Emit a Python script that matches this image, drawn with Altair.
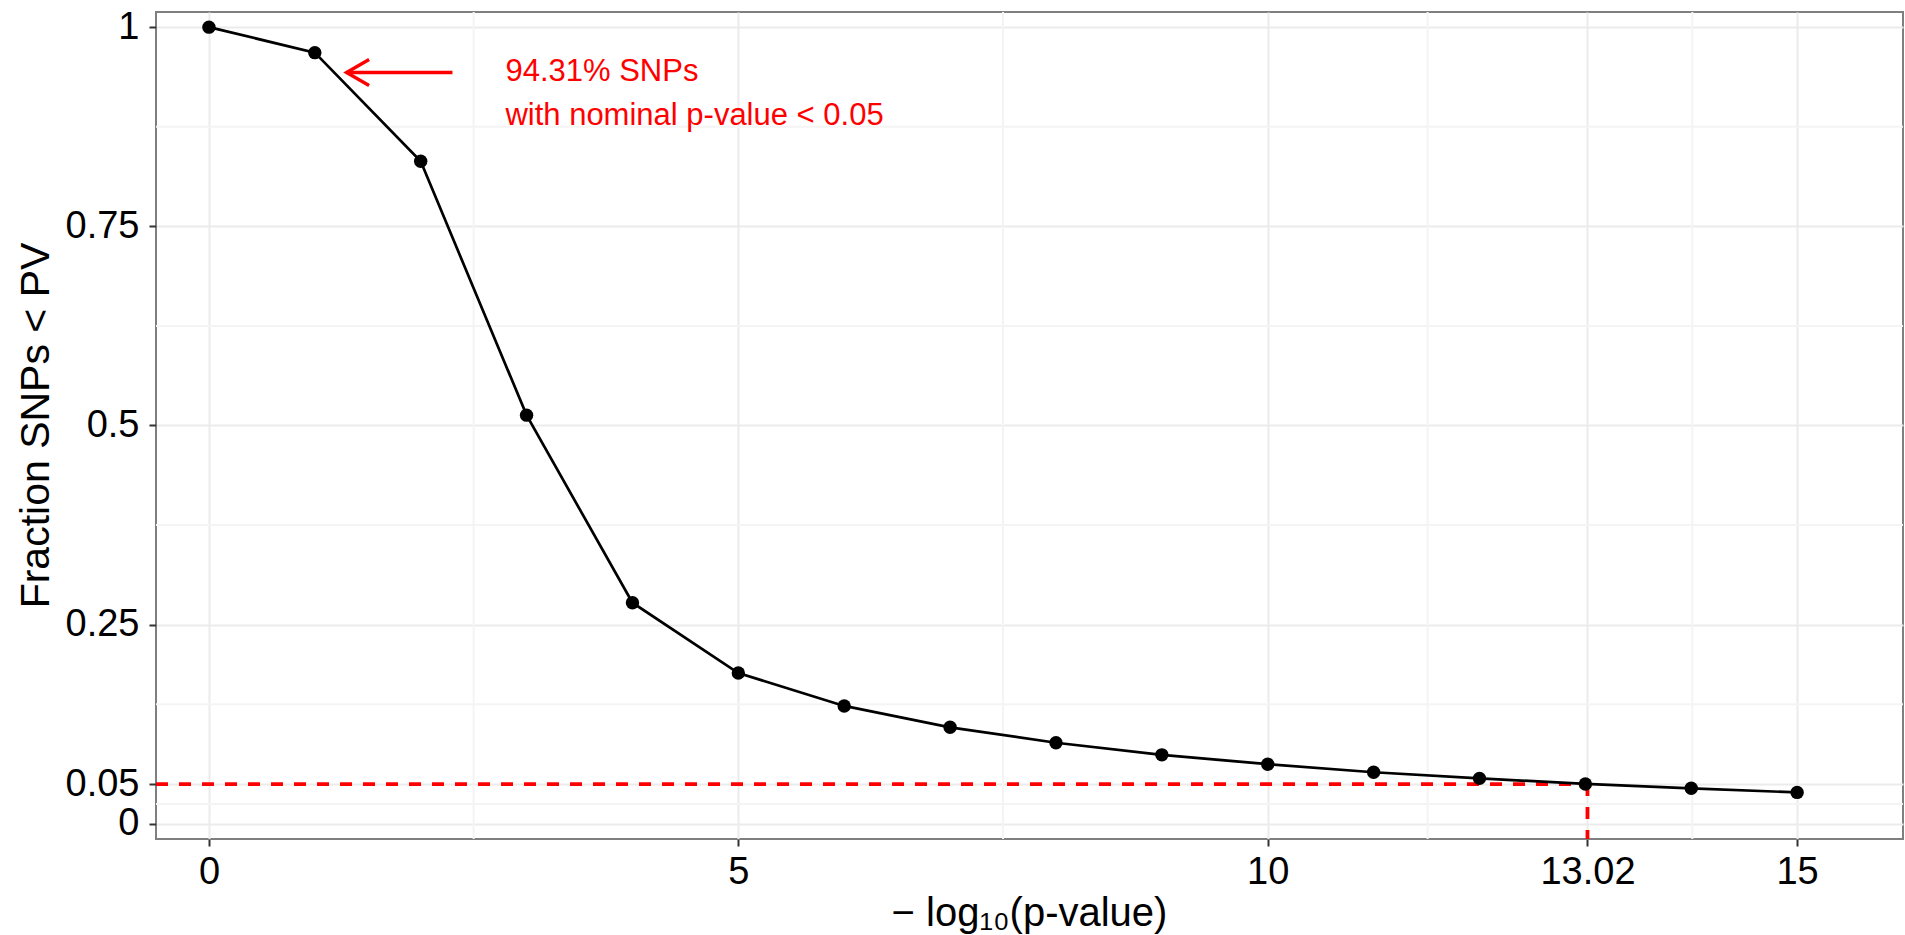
import altair as alt
import pandas as pd

# Cumulative fraction of SNPs whose p-value is below each -log10 threshold
neg_log10_p = list(range(16))
fraction_snps = [1.0, 0.968, 0.8316, 0.513, 0.2776, 0.1893, 0.148, 0.1212,
                 0.1018, 0.0866, 0.0749, 0.0648, 0.0571, 0.0501, 0.0446, 0.0395]

# Axis breaks (major) and the midpoints between them (minor grid)
x_breaks = [0, 5, 10, 13.02, 15]
x_minor = [2.5, 7.5, 11.51, 14.01]
y_breaks = [0, 0.05, 0.25, 0.5, 0.75, 1]
y_minor = [0.025, 0.15, 0.375, 0.625, 0.875]

x_limits = [-0.5, 16]
y_limits = [-0.019, 1.019]

# Reference threshold and where the curve crosses it
nominal_cut = 0.05
crossing_x = 13.02

# Annotation for the nominal p < 0.05 share
nominal_share = 0.9431
arrow_start, arrow_end = 2.3, 1.3
note_x = 2.8
note_text = "94.31% SNPs\nwith nominal p-value < 0.05"

FONT = "Liberation Sans"
RED = "#ff0000"

curve_df = pd.DataFrame({"x": neg_log10_p, "y": fraction_snps})

x_scale = alt.Scale(domain=x_limits, nice=False, zero=False)
y_scale = alt.Scale(domain=y_limits, nice=False, zero=False)

x_axis = alt.Axis(
    values=x_breaks, labelExpr="'' + datum.value",
    grid=True, gridColor="#ebebeb", gridWidth=2,
    domain=False, ticks=True, tickSize=7, tickWidth=2, tickColor="#333333",
    labelFont=FONT, labelFontSize=38, labelColor="#000000", labelPadding=7,
    labelFlush=False, labelOverlap=False,
    title="\u2212 log\u2081\u2080(p-value)", titleFont=FONT, titleFontSize=40,
    titleFontWeight="normal", titleColor="#000000",
    titleX=873, titleY=86, titleAlign="center", titleBaseline="alphabetic",
)
y_axis = alt.Axis(
    values=y_breaks, labelExpr="'' + datum.value",
    grid=True, gridColor="#ebebeb", gridWidth=2,
    domain=False, ticks=True, tickSize=7, tickWidth=2, tickColor="#333333",
    labelFont=FONT, labelFontSize=38, labelColor="#000000", labelPadding=10,
    labelFlush=False, labelOverlap=False,
    title="Fraction SNPs < PV", titleFont=FONT, titleFontSize=41,
    titleFontWeight="normal", titleColor="#000000",
    titleX=-120, titleY=413, titleAngle=270, titleAlign="center",
    titleBaseline="middle",
)

base = alt.Chart(curve_df)

curve = base.mark_line(color="#000000", strokeWidth=2.7).encode(
    x=alt.X("x:Q", scale=x_scale, axis=x_axis),
    y=alt.Y("y:Q", scale=y_scale, axis=y_axis),
)
dots = base.mark_circle(color="#000000", size=180, opacity=1).encode(
    x=alt.X("x:Q", scale=x_scale),
    y=alt.Y("y:Q", scale=y_scale),
)

minor_x = alt.Chart(pd.DataFrame({"x": x_minor})).mark_rule(
    color="#f4f4f4", strokeWidth=2
).encode(x=alt.X("x:Q", scale=x_scale))
minor_y = alt.Chart(pd.DataFrame({"y": y_minor})).mark_rule(
    color="#f4f4f4", strokeWidth=2
).encode(y=alt.Y("y:Q", scale=y_scale))

threshold_h = alt.Chart(pd.DataFrame({
    "x": [x_limits[0]], "x2": [crossing_x], "y": [nominal_cut]
})).mark_rule(color=RED, strokeWidth=3.8, strokeDash=[12, 11]).encode(
    x=alt.X("x:Q", scale=x_scale), x2="x2:Q", y=alt.Y("y:Q", scale=y_scale)
)
threshold_v = alt.Chart(pd.DataFrame({
    "x": [crossing_x], "y": [nominal_cut], "y2": [y_limits[0]]
})).mark_rule(color=RED, strokeWidth=3.8, strokeDash=[12, 11]).encode(
    x=alt.X("x:Q", scale=x_scale), y=alt.Y("y:Q", scale=y_scale), y2="y2:Q"
)

arrow_df = pd.DataFrame({"x": [arrow_start], "x2": [arrow_end], "y": [nominal_share]})
arrow_shaft = alt.Chart(arrow_df).mark_rule(color=RED, strokeWidth=3.4).encode(
    x=alt.X("x:Q", scale=x_scale), x2="x2:Q", y=alt.Y("y:Q", scale=y_scale)
)
arrow_head = alt.Chart(arrow_df).mark_point(
    shape="M 1 -0.58 L 0 0 L 1 0.58", size=2025, filled=False,
    color=RED, strokeWidth=3.4, opacity=1
).encode(x=alt.X("x2:Q", scale=x_scale), y=alt.Y("y:Q", scale=y_scale))

note = alt.Chart(pd.DataFrame({"x": [note_x], "y": [nominal_share], "t": [note_text]})).mark_text(
    font=FONT, fontSize=31, color=RED, align="left", baseline="middle",
    lineBreak="\n", lineHeight=44
).encode(x=alt.X("x:Q", scale=x_scale), y=alt.Y("y:Q", scale=y_scale), text="t:N")

chart = alt.layer(
    minor_x, minor_y, threshold_h, threshold_v, curve, dots,
    arrow_shaft, arrow_head, note
).properties(
    width=1747, height=827,
    padding={"left": 156, "top": 12, "right": 2, "bottom": 96},
    autosize=alt.AutoSizeParams(type="none"),
    background="#ffffff",
).configure_view(
    stroke="#7f7f7f", strokeWidth=2
)

chart.save("out.html", embed_options={"renderer": "svg", "actions": False})
